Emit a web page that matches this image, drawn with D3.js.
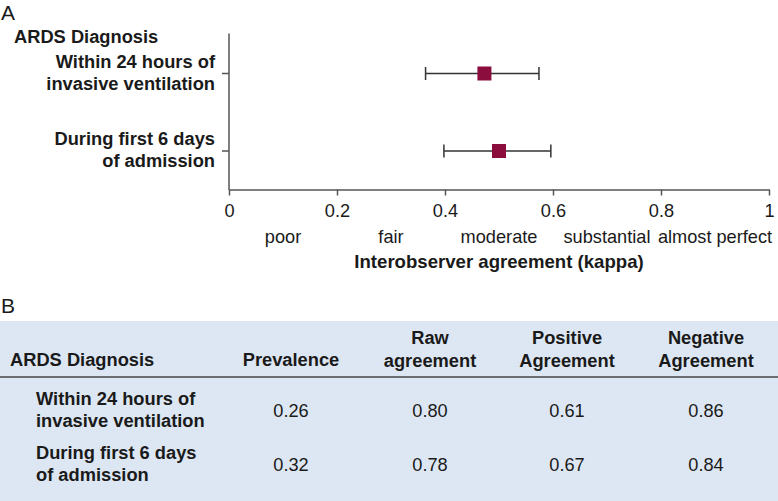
<!DOCTYPE html>
<html><head><meta charset="utf-8">
<script src="https://cdn.jsdelivr.net/npm/d3@7"></script>
<style>body{margin:0;background:#fff}svg{display:block;font-family:"Liberation Sans",Arial,sans-serif}</style>
</head><body><svg id="c" width="778" height="501"></svg>
<script>
const diagnoses = [["Within 24 hours of","invasive ventilation"],["During first 6 days","of admission"]];
const kappa = [0.473, 0.50];
const ciLow = [0.364, 0.398];
const ciHigh = [0.574, 0.596];
const xTicks = [0, 0.2, 0.4, 0.6, 0.8, 1];
const agreementLabels = ["poor","fair","moderate","substantial","almost perfect"];
const agreementPos = [0.1, 0.3, 0.5, 0.7, 0.9];
const tableHeaders = [["ARDS Diagnosis"],["Prevalence"],["Raw","agreement"],["Positive","Agreement"],["Negative","Agreement"]];
const prevalence = ["0.26","0.32"];
const rawAgreement = ["0.80","0.78"];
const positiveAgreement = ["0.61","0.67"];
const negativeAgreement = ["0.86","0.84"];

const svg = d3.select("#c");
const txt = "#1a1a1a";
const FB = 18.3, FR = 18.2;
const x = d3.scaleLinear().domain([0,1]).range([229,769]);
const y = d3.scalePoint().domain([0,1]).range([73.5,151]);

// Panel A
svg.append("text").attr("x",1).attr("y",20).attr("font-size",21).attr("fill",txt).text("A");
svg.append("text").attr("x",14).attr("y",43).attr("font-size",FB).attr("font-weight","bold").attr("fill",txt).text("ARDS Diagnosis");

const xAxis = svg.append("g").attr("transform","translate(0,189.5)")
  .call(d3.axisBottom(x).tickValues(xTicks).tickSize(6).tickSizeOuter(0).tickFormat(d=>d===0||d===1?d3.format("d")(d):d3.format(".1f")(d)));
xAxis.select(".domain").attr("stroke","#555").attr("stroke-width",1.5);
xAxis.selectAll(".tick line").attr("stroke","#555").attr("stroke-width",1.5);
xAxis.selectAll(".tick text").attr("font-size",FR).attr("fill",txt).attr("dy","0.71em").attr("y",14.5).attr("font-family","Liberation Sans, Arial, sans-serif");

const yAxis = svg.append("g").attr("transform","translate(229,0)");
yAxis.append("line").attr("x1",0).attr("x2",0).attr("y1",33.5).attr("y2",190).attr("stroke","#555").attr("stroke-width",1.5);
yAxis.selectAll("line.t").data([0,1]).enter().append("line").attr("class","t")
  .attr("x1",-7).attr("x2",0).attr("y1",d=>y(d)).attr("y2",d=>y(d)).attr("stroke","#555").attr("stroke-width",1.5);

diagnoses.forEach((lines,i)=>{
  const t = svg.append("text").attr("text-anchor","end").attr("font-size",FB).attr("font-weight","bold").attr("fill",txt);
  lines.forEach((l,j)=>t.append("tspan").attr("x",215).attr("y",y(i)-6+j*22).text(l));
});

svg.append("g").selectAll("text").data(agreementLabels).enter().append("text")
  .attr("x",(d,i)=>x(agreementPos[i])).attr("y",243).attr("text-anchor","middle")
  .attr("font-size",FR).attr("fill",txt).text(d=>d);
svg.append("text").attr("x",x(0.5)).attr("y",268).attr("text-anchor","middle").attr("font-size",FB+0.3)
  .attr("font-weight","bold").attr("fill",txt).text("Interobserver agreement (kappa)");

const g = svg.append("g");
kappa.forEach((k,i)=>{
  const yy = y(i);
  g.append("line").attr("x1",x(ciLow[i])).attr("x2",x(ciHigh[i])).attr("y1",yy).attr("y2",yy).attr("stroke","#333").attr("stroke-width",1.5);
  [ciLow[i],ciHigh[i]].forEach(v=>g.append("line").attr("x1",x(v)).attr("x2",x(v)).attr("y1",yy-6.5).attr("y2",yy+6.5).attr("stroke","#333").attr("stroke-width",1.5));
  g.append("rect").attr("x",x(k)-7).attr("y",yy-7).attr("width",14).attr("height",14).attr("fill","#8b0d3d");
});

// Panel B
svg.append("text").attr("x",1).attr("y",313).attr("font-size",21).attr("fill",txt).text("B");
svg.append("rect").attr("x",0).attr("y",321).attr("width",778).attr("height",180).attr("fill","#dde7f3");
svg.append("line").attr("x1",0).attr("x2",778).attr("y1",377).attr("y2",377).attr("stroke","#444").attr("stroke-width",1.5);

const colX = [10, 291, 430, 567, 706];
tableHeaders.forEach((h,i)=>{
  const t = svg.append("text").attr("font-size",FB).attr("font-weight","bold").attr("fill",txt)
    .attr("text-anchor", i===0?"start":"middle");
  const base = h.length===1 ? 366 : 344;
  h.forEach((l,j)=>t.append("tspan").attr("x",colX[i]).attr("y",base+j*23).text(l));
});
const rowBase = [405, 459];
diagnoses.forEach((lines,i)=>{
  const t = svg.append("text").attr("font-size",FB).attr("font-weight","bold").attr("fill",txt);
  lines.forEach((l,j)=>t.append("tspan").attr("x",36).attr("y",rowBase[i]+j*22).text(l));
});
[prevalence, rawAgreement, positiveAgreement, negativeAgreement].forEach((col,c)=>{
  col.forEach((v,i)=>svg.append("text").attr("x",colX[c+1]).attr("y",rowBase[i]+12).attr("text-anchor","middle")
    .attr("font-size",FR).attr("fill",txt).text(v));
});
</script></body></html>
